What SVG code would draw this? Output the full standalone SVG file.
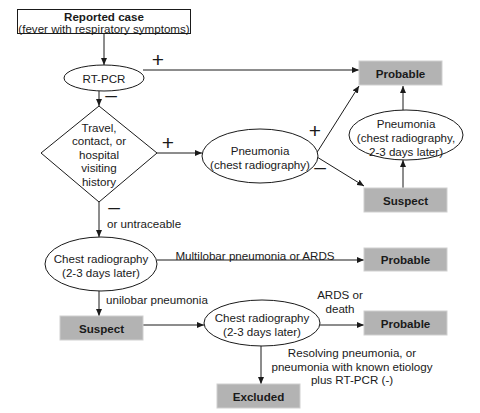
<svg xmlns="http://www.w3.org/2000/svg" width="480" height="413" viewBox="0 0 480 413">
<defs>
<marker id="ah" markerWidth="8" markerHeight="6" refX="7" refY="3" orient="auto" markerUnits="userSpaceOnUse">
<path d="M0,0 L7,3 L0,6 Z" fill="#1a1a1a"/>
</marker>
<style>
text{font-family:"Liberation Sans",Arial,sans-serif;font-size:11.6px;fill:#1a1a1a;text-anchor:middle;dominant-baseline:central}
.b{font-weight:bold}
.l{text-anchor:start}
.sign{font-size:21px}
.box{fill:#b3b3b3;stroke:#cfcfcf;stroke-width:1}
.wbox{fill:#fff;stroke:#1a1a1a;stroke-width:1}
.sh{fill:#fff;stroke:#1a1a1a;stroke-width:1}
.c{fill:none;stroke:#1a1a1a;stroke-width:1;marker-end:url(#ah)}
</style>
</defs>
<rect width="480" height="413" fill="#fff"/>
<g id="connectors">
<path class="c" d="M104,33 V65"/>
<path class="c" d="M143,70 H359"/>
<path class="c" d="M99,91 V106"/>
<path class="c" d="M157,153 H202"/>
<path class="c" d="M316,154 L359,86"/>
<path class="c" d="M317,157 L364,186"/>
<path class="c" d="M403,188 V160"/>
<path class="c" d="M403,110 V86"/>
<path class="c" d="M99,202 V237"/>
<path class="c" d="M157,260 H364"/>
<path class="c" d="M99,291 V316"/>
<path class="c" d="M143,325 H204"/>
<path class="c" d="M320,325 H364"/>
<path class="c" d="M261,346 V384"/>
</g>
<g id="labels">
<text class="sign" x="158" y="59">+</text>
<text class="sign" x="111" y="94">–</text>
<text class="sign" x="168" y="142">+</text>
<text class="sign" x="315" y="130">+</text>
<text class="sign" x="320" y="166">–</text>
<text class="sign" x="114" y="206">–</text>
<text class="l" x="107" y="223">or untraceable</text>
<text x="255" y="255">Multilobar pneumonia or ARDS</text>
<text class="l" x="106" y="299">unilobar pneumonia</text>
<text x="340" y="294">ARDS or</text>
<text x="340" y="308">death</text>
<text x="352" y="352">Resolving pneumonia, or</text>
<text x="352" y="366">pneumonia with known etiology</text>
<text x="352" y="379">plus RT-PCR (-)</text>
</g>
<g id="reported">
<rect class="wbox" x="17.5" y="9.5" width="173" height="24"/>
<text class="b" x="104" y="16">Reported case</text>
<text x="104" y="28.5">(fever with respiratory symptoms)</text>
</g>
<g id="rtpcr">
<ellipse class="sh" cx="104" cy="78" rx="40" ry="13"/>
<text x="104" y="78">RT-PCR</text>
</g>
<g id="history">
<polygon class="sh" points="99,106 157,153 99,202 41,153"/>
<text x="99" y="127">Travel,</text>
<text x="99" y="140.5">contact, or</text>
<text x="99" y="154">hospital</text>
<text x="99" y="167.5">visiting</text>
<text x="99" y="181">history</text>
</g>
<g id="pneumonia1">
<ellipse class="sh" cx="260" cy="156" rx="58" ry="27"/>
<text x="260" y="150">Pneumonia</text>
<text x="260" y="164">(chest radiography)</text>
</g>
<g id="pneumonia2">
<ellipse class="sh" cx="406" cy="135" rx="57" ry="25"/>
<text x="406" y="123">Pneumonia</text>
<text x="406" y="137">(chest radiography,</text>
<text x="406" y="151">2-3 days later)</text>
</g>
<g id="probable1">
<rect class="box" x="359" y="61" width="83" height="24"/>
<text class="b" x="400.5" y="73">Probable</text>
</g>
<g id="suspect1">
<rect class="box" x="364" y="188" width="83" height="24"/>
<text class="b" x="405.5" y="200">Suspect</text>
</g>
<g id="chest1">
<ellipse class="sh" cx="101" cy="264" rx="56" ry="27"/>
<text x="101" y="258">Chest radiography</text>
<text x="101" y="272">(2-3 days later)</text>
</g>
<g id="probable2">
<rect class="box" x="364" y="248" width="83" height="23"/>
<text class="b" x="405.5" y="259.5">Probable</text>
</g>
<g id="suspect2">
<rect class="box" x="60" y="316" width="83" height="24"/>
<text class="b" x="101.5" y="328">Suspect</text>
</g>
<g id="chest2">
<ellipse class="sh" cx="262" cy="323" rx="58" ry="23"/>
<text x="262" y="317">Chest radiography</text>
<text x="262" y="331">(2-3 days later)</text>
</g>
<g id="probable3">
<rect class="box" x="364" y="311" width="83" height="24"/>
<text class="b" x="405.5" y="323">Probable</text>
</g>
<g id="excluded">
<rect class="box" x="217" y="384" width="83" height="24"/>
<text class="b" x="258.5" y="396">Excluded</text>
</g>
</svg>
